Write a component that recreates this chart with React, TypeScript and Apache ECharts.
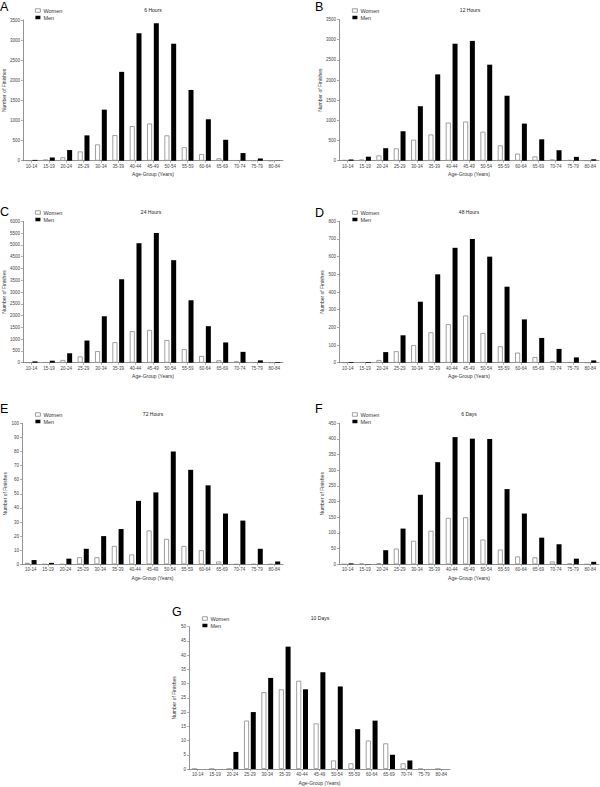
import React, { useEffect, useRef } from "react";
import * as echarts from "echarts";

const ageGroups = ["10-14", "15-19", "20-24", "25-29", "30-34", "35-39", "40-44", "45-49", "50-54", "55-59", "60-64", "65-69", "70-74", "75-79", "80-84"];

const women6h = [5, 30, 85, 230, 405, 635, 860, 925, 630, 335, 165, 60, 10, 5, 0];
const men6h = [20, 80, 265, 630, 1270, 2210, 3170, 3420, 2910, 1760, 1030, 520, 190, 55, 5];

const women12h = [15, 30, 130, 305, 520, 650, 945, 970, 720, 380, 175, 105, 30, 15, 5];
const men12h = [30, 100, 310, 730, 1350, 2140, 2900, 2970, 2380, 1610, 920, 530, 260, 95, 35];

const women24h = [10, 20, 115, 265, 490, 870, 1340, 1390, 960, 575, 285, 105, 60, 20, 10];
const men24h = [55, 85, 400, 940, 1970, 3540, 5070, 5500, 4350, 2650, 1550, 860, 460, 100, 30];

const women48h = [1, 3, 15, 65, 100, 172, 218, 267, 168, 93, 57, 32, 8, 3, 1];
const men48h = [4, 4, 60, 155, 345, 500, 650, 700, 600, 430, 245, 140, 78, 30, 13];

const women72h = [1, 0, 0, 5, 5, 13, 7, 24, 18, 13, 10, 2, 0, 0, 0];
const men72h = [3, 1, 4, 11, 20, 25, 45, 51, 80, 67, 56, 36, 31, 11, 2];

const women6d = [0, 2, 3, 50, 75, 107, 148, 150, 79, 47, 25, 22, 9, 2, 0];
const men6d = [3, 1, 45, 114, 222, 326, 406, 401, 400, 240, 162, 85, 64, 18, 8];

const women10d = [0, 0, 0, 17, 27, 28, 31, 16, 3, 2, 10, 9, 2, 0, 0];
const men10d = [0, 0, 6, 20, 32, 43, 28, 34, 29, 14, 17, 5, 3, 0, 0];

const panelLetters = ["A", "B", "C", "D", "E", "F", "G"];
const panelTitles = ["6 Hours", "12 Hours", "24 Hours", "48 Hours", "72 Hours", "6 Days", "10 Days"];
const womenSeries = [women6h, women12h, women24h, women48h, women72h, women6d, women10d];
const menSeries = [men6h, men12h, men24h, men48h, men72h, men6d, men10d];
const yMaxima = [3500, 3500, 6000, 800, 100, 450, 50];
const yIntervals = [500, 500, 500, 100, 10, 50, 5];

// layout (pixels)
const layout = [
  { left: 22, top: 20, width: 261, height: 140.7, lx: 0, ly: 0, tx: 153, ty: 10, gx: 35, gy: 7.5 },
  { left: 339, top: 19.5, width: 260, height: 141.2, lx: 315, ly: 0, tx: 470, ty: 10, gx: 352, gy: 7.5 },
  { left: 22, top: 221.3, width: 261, height: 141.4, lx: 0, ly: 205, tx: 151, ty: 212, gx: 35, gy: 209.5 },
  { left: 339, top: 221.3, width: 260, height: 141.4, lx: 315, ly: 206, tx: 469, ty: 212, gx: 352, gy: 209.5 },
  { left: 22, top: 423.3, width: 261, height: 141, lx: 0, ly: 402, tx: 153, ty: 414, gx: 35, gy: 411.5 },
  { left: 339, top: 423.3, width: 260, height: 141, lx: 315, ly: 402, tx: 469, ty: 414, gx: 352, gy: 411.5 },
  { left: 189, top: 626.7, width: 261, height: 142.3, lx: 172, ly: 605, tx: 320, ty: 618, gx: 202, gy: 615.5 },
];

const FONT = "'Liberation Sans', Arial, sans-serif";
const AXIS_COLOR = "#777";
const WOMEN_STYLE = { color: "#ffffff", borderColor: "#888", borderWidth: 0.8 };

export default function App() {
  const ref = useRef<HTMLDivElement>(null);

  useEffect(() => {
    if (!ref.current) return;
    const chart = echarts.init(ref.current, undefined, { renderer: "svg" });

    const grid = layout.map((l) => ({ left: l.left, top: l.top, width: l.width, height: l.height }));

    const xAxis = layout.map((_, i) => ({
      type: "category",
      gridIndex: i,
      data: ageGroups,
      name: "Age-Group (Years)",
      nameLocation: "middle",
      nameGap: 11,
      nameTextStyle: { fontSize: 5, color: "#333", fontFamily: FONT },
      axisLine: { lineStyle: { color: AXIS_COLOR, width: 0.8 } },
      axisTick: { show: true, alignWithLabel: true, length: 2, lineStyle: { color: AXIS_COLOR, width: 0.6 } },
      axisLabel: { interval: 0, fontSize: 4.5, margin: 3, color: "#444", fontFamily: FONT },
      splitLine: { show: false },
    }));

    const yAxis = layout.map((_, i) => ({
      type: "value",
      gridIndex: i,
      min: 0,
      max: yMaxima[i],
      interval: yIntervals[i],
      name: "Number of Finishes",
      nameLocation: "middle",
      nameGap: 13,
      nameTextStyle: { fontSize: 5, color: "#333", fontFamily: FONT },
      axisLine: { show: true, lineStyle: { color: AXIS_COLOR, width: 0.8 } },
      axisTick: { show: true, length: 2, lineStyle: { color: AXIS_COLOR, width: 0.6 } },
      axisLabel: { fontSize: 4.5, margin: 3, color: "#444", fontFamily: FONT, formatter: (v: number) => String(v) },
      splitLine: { show: false },
    }));

    const series: any[] = [];
    layout.forEach((_, i) => {
      series.push({
        type: "bar",
        name: "Women",
        xAxisIndex: i,
        yAxisIndex: i,
        data: womenSeries[i],
        barWidth: 5,
        barGap: "35%",
        itemStyle: WOMEN_STYLE,
      });
      series.push({
        type: "bar",
        name: "Men",
        xAxisIndex: i,
        yAxisIndex: i,
        data: menSeries[i],
        barWidth: 5,
        barGap: "35%",
        itemStyle: { color: "#000000" },
      });
    });

    const legend = layout.map((l) => ({
      left: l.gx,
      top: l.gy,
      orient: "vertical",
      padding: 0,
      itemWidth: 5,
      itemHeight: 3.5,
      itemGap: 1,
      selectedMode: false,
      icon: "rect",
      textStyle: { fontSize: 5.5, color: "#333", fontFamily: FONT, padding: [0, 0, 0, -2] },
      data: [
        { name: "Women", icon: "rect", itemStyle: WOMEN_STYLE },
        { name: "Men", icon: "rect", itemStyle: { color: "#000", borderWidth: 0 } },
      ],
    }));

    const graphic: any[] = [];
    layout.forEach((l, i) => {
      graphic.push({
        type: "text",
        x: l.lx,
        y: l.ly,
        style: { text: panelLetters[i], fontSize: 12.5, fontFamily: FONT, fill: "#000" },
      });
      graphic.push({
        type: "text",
        x: l.tx,
        y: l.ty,
        style: {
          text: panelTitles[i],
          fontSize: 5,
          fontFamily: FONT,
          fill: "#222",
          align: "center",
          verticalAlign: "middle",
          textAlign: "center",
          textVerticalAlign: "middle",
        },
      });
    });

    chart.setOption({
      animation: false,
      backgroundColor: "#ffffff",
      textStyle: { fontFamily: FONT },
      grid,
      xAxis,
      yAxis,
      series,
      legend,
      graphic,
    });

    return () => chart.dispose();
  }, []);

  return (
    <div
      ref={ref}
      style={{ position: "absolute", left: 0, top: 0, width: 600, height: 787, background: "#fff" }}
    />
  );
}
